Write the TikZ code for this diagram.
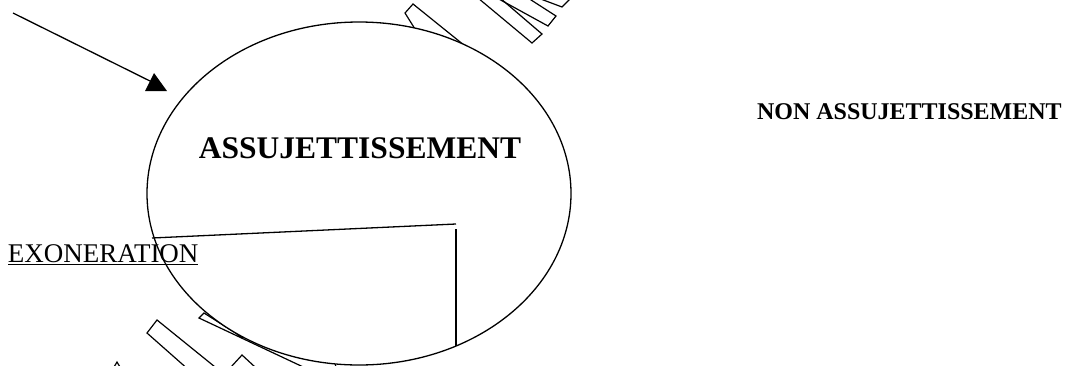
\documentclass[tikz,border=0pt]{standalone}
\usepackage{fontspec}
\setmainfont{Liberation Serif}
\usetikzlibrary{shapes.geometric}
\tikzset{
  wm/.style={draw=black, line width=1.2pt, line join=miter},
  conn/.style={draw=black, line width=1.3pt},
  lbl/.style={inner sep=0pt, outer sep=0pt, text=black}
}
\begin{document}
\begin{tikzpicture}[x=1pt,y=-1pt]
\useasboundingbox (0,0) rectangle (1079,365);
% watermark outlines (behind the ellipse)
\path[wm] (413,4) -- (480,58) -- (430,53) -- (405,13) -- cycle;
\path[wm] (478,-2) -- (532,43) -- (542,34) -- (500,-2);
\path[wm] (497,-2) -- (548,26) -- (556,16) -- (528,-2);
\path[wm] (538,-2) -- (562,7) -- (571,-2);
\path[wm] (204,313) -- (242,337) -- (330,345) -- (345,400) -- (316,373) -- (199,318) -- cycle;
\path[wm] (157,320) -- (220,371) -- (190,371) -- (147,333) -- cycle;
\path[wm] (231,367) -- (242,355) -- (255,367);
\path[wm] (114,367) -- (117,362) -- (120,367);
% ellipse
\node[ellipse, draw=black, fill=white, line width=1.3pt, minimum width=424pt, minimum height=343pt, inner sep=0pt] (ell) at (359,193.5) {};
% arrow
\coordinate (a0) at (13,13);
\coordinate (a1) at (152,82);
\draw[conn] (a0) -- (a1);
\fill[black] (145,91) -- (167,91) -- (154,73) -- cycle;
% lines inside
\coordinate (s0) at (152,238);
\coordinate (s1) at (456,224);
\coordinate (v0) at (456,229);
\coordinate (v1) at (456,346);
\draw[conn] (s0) -- (s1);
\draw[conn] (v0) -- (v1);
% texts
\node[lbl, anchor=base, font=\bfseries\fontsize{31.5}{31.5}\selectfont] (assuj) at (360,158) {ASSUJETTISSEMENT};
\node[lbl, anchor=base west, font=\bfseries\fontsize{24}{24}\selectfont] (non) at (757,119) {NON ASSUJETTISSEMENT};
\node[lbl, anchor=base west, font=\fontsize{27}{27}\selectfont] (exo) at (8,262) {EXONERATION};
\draw[line width=1.5pt] ([yshift=-2.7pt]exo.base west) -- ([yshift=-2.7pt]exo.base east);
\end{tikzpicture}
\end{document}
